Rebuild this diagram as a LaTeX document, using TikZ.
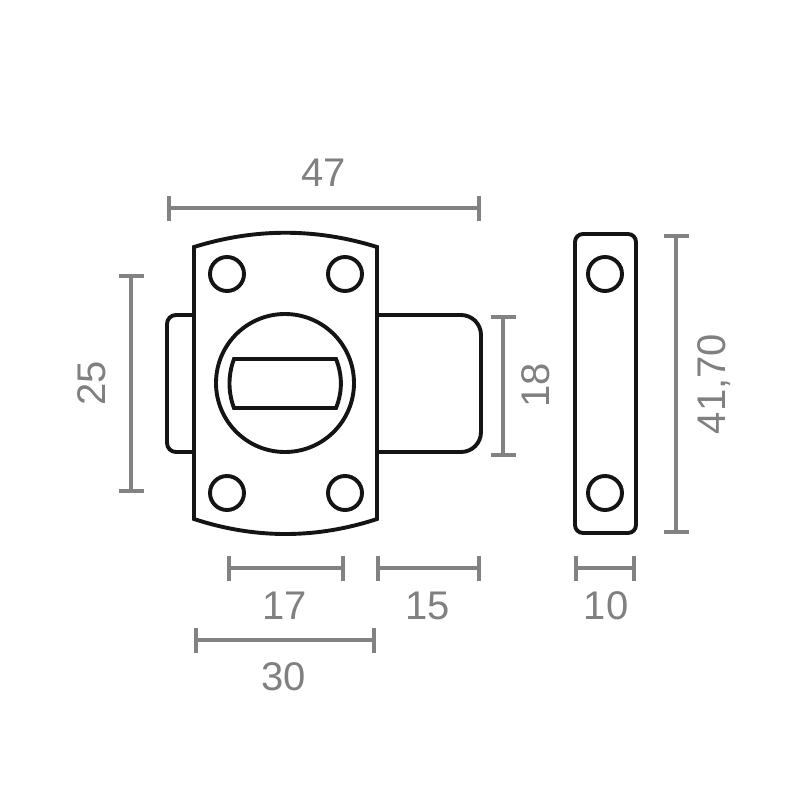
\documentclass[tikz,border=0pt]{standalone}
\usepackage{fontspec}
\setmainfont{Liberation Sans}
\usetikzlibrary{arrows.meta}
\definecolor{DimClr}{RGB}{130,130,130}
\definecolor{TxtClr}{RGB}{128,128,128}
\tikzset{
  part/.style={line width=3.9pt,color=black!92},
  hole/.style={part,fill=white},
  dimline/.style={line width=3.9pt,color=DimClr,{Bar[width=25pt,line width=4pt]}-{Bar[width=25pt,line width=4pt]},shorten <=-2pt,shorten >=-2pt},
  dimtext/.style={text=TxtClr,font=\fontsize{40}{40}\selectfont,inner sep=0pt}
}

\begin{document}
\begin{tikzpicture}[x=1pt,y=-1pt]
\useasboundingbox (0,0) rectangle (800,800);

\coordinate (Wa) at (169,208);
\coordinate (Wb) at (479,208);
\coordinate (Ha) at (131,276);
\coordinate (Hb) at (131,491);
\coordinate (Ba) at (503,317);
\coordinate (Bb) at (503,455);
\coordinate (Sa) at (676,236);
\coordinate (Sb) at (676,532);
\coordinate (Pa) at (229,568);
\coordinate (Pb) at (343,568);
\coordinate (Ra) at (378,568);
\coordinate (Rb) at (479,568);
\coordinate (Ta) at (576,568);
\coordinate (Tb) at (634,568);
\coordinate (La) at (196,640);
\coordinate (Lb) at (374,640);

\draw[part,rounded corners=9pt] (194,315) -- (167,315) -- (167,452) -- (194,452);
\draw[part,rounded corners=20pt] (377,315) -- (481,315) -- (481,452) -- (377,452);

\draw[part,fill=white] (194,247) .. controls (255,228) and (316,228) .. (377,247)
  -- (377,519) .. controls (316,539) and (255,539) .. (194,519) -- cycle;

\foreach \hx/\hy in {227/274,345/274,227/493,345/493,605/274,605/493}
  \draw[hole] (\hx,\hy) circle (17);

\draw[part] (285,383) circle (69);
\draw[part] (234,359) -- (336,359) .. controls (342.5,375) and (342.5,392) .. (336,408)
  -- (234,408) .. controls (228,392) and (228,375) .. (234,359) -- cycle;

\draw[part,rounded corners=8pt] (575,234) rectangle (636,533);

\draw[dimline] (Wa) -- (Wb);
\draw[dimline] (Ha) -- (Hb);
\draw[dimline] (Ba) -- (Bb);
\draw[dimline] (Sa) -- (Sb);
\draw[dimline] (Pa) -- (Pb);
\draw[dimline] (Ra) -- (Rb);
\draw[dimline] (Ta) -- (Tb);
\draw[dimline] (La) -- (Lb);

\node[dimtext] (tW) at (324,173) {47};
\node[dimtext,rotate=90] (tH) at (92,383) {25};
\node[dimtext,rotate=90] (tB) at (536,385) {18};
\node[dimtext,rotate=90] (tS) at (714,384) {41,70};
\node[dimtext] (tP) at (285,606) {17};
\node[dimtext] (tR) at (428,606) {15};
\node[dimtext] (tT) at (606,606) {10};
\node[dimtext] (tL) at (284,677) {30};

\end{tikzpicture}
\end{document}
